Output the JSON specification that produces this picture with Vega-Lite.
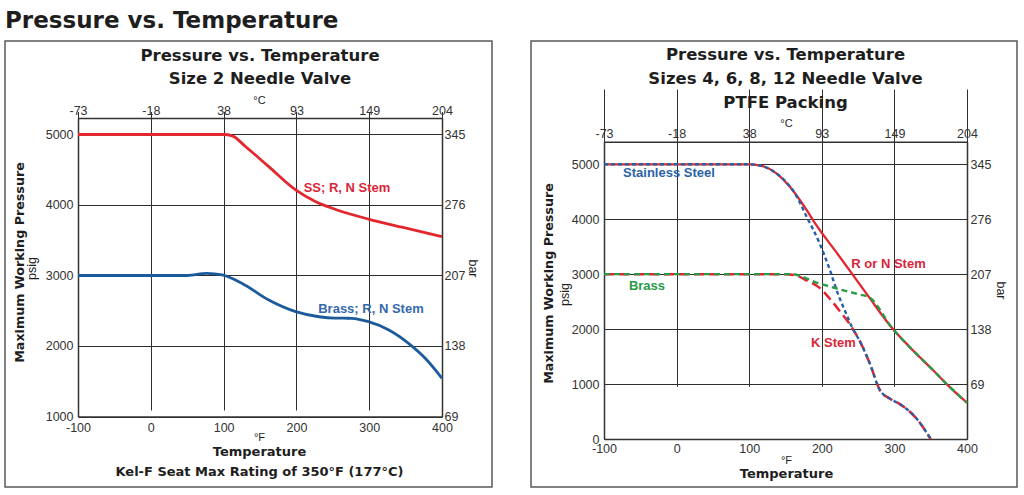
{
  "$schema": "https://vega.github.io/schema/vega-lite/v6.json",
  "padding": {"left": 4, "top": 10, "right": 4, "bottom": 4},
  "background": "white",
  "title": {"text": "Pressure vs. Temperature", "anchor": "start", "font": "DejaVu Sans", "fontSize": 23, "fontWeight": "bold", "color": "#1e1e1e", "offset": 7},
  "spacing": 37,
  "resolve": {"scale": {"color": "independent"}},
  "datasets": {
    "lss": [
      {"F": -100, "P": 5000}, {"F": 100, "P": 5000}, {"F": 112, "P": 4980}, {"F": 130, "P": 4830},
      {"F": 162, "P": 4545}, {"F": 199, "P": 4215}, {"F": 226, "P": 4050}, {"F": 253, "P": 3940},
      {"F": 299, "P": 3800}, {"F": 345, "P": 3685}, {"F": 400, "P": 3550}
    ],
    "lbr": [
      {"F": -100, "P": 3000}, {"F": 50, "P": 3000}, {"F": 77, "P": 3030}, {"F": 98, "P": 3008},
      {"F": 125, "P": 2890}, {"F": 162, "P": 2652}, {"F": 199, "P": 2487}, {"F": 231, "P": 2415},
      {"F": 253, "P": 2395}, {"F": 276, "P": 2393}, {"F": 299, "P": 2345}, {"F": 327, "P": 2227},
      {"F": 354, "P": 2038}, {"F": 377, "P": 1826}, {"F": 400, "P": 1542}
    ],
    "llab": [
      {"F": 269.5, "P": 4248, "label": "SS; R, N Stem", "series": "ss"},
      {"F": 302.4, "P": 2525, "label": "Brass; R, N Stem", "series": "brass"}
    ],
    "rrn": [
      {"F": -100, "P": 5000}, {"F": 100, "P": 5000}, {"F": 120, "P": 4960}, {"F": 137, "P": 4840},
      {"F": 156, "P": 4590}, {"F": 179, "P": 4170}, {"F": 192, "P": 3900}, {"F": 220, "P": 3400},
      {"F": 247, "P": 2910}, {"F": 264, "P": 2600}, {"F": 298, "P": 2000}, {"F": 325, "P": 1620},
      {"F": 353, "P": 1256}, {"F": 372, "P": 1000}, {"F": 400, "P": 660}
    ],
    "rk": [
      {"F": -100, "P": 3000}, {"F": 150, "P": 3000}, {"F": 165, "P": 2975}, {"F": 180, "P": 2880},
      {"F": 197, "P": 2750}, {"F": 210, "P": 2570}, {"F": 227, "P": 2290}, {"F": 238, "P": 2100},
      {"F": 252, "P": 1790}, {"F": 266, "P": 1380}, {"F": 280, "P": 890}, {"F": 293, "P": 740},
      {"F": 307, "P": 640}, {"F": 330, "P": 380}, {"F": 350, "P": 0}
    ],
    "rssk": [
      {"F": -100, "P": 5000}, {"F": 100, "P": 5000}, {"F": 120, "P": 4960}, {"F": 137, "P": 4840},
      {"F": 152, "P": 4660}, {"F": 163, "P": 4470}, {"F": 179, "P": 4050}, {"F": 197, "P": 3560},
      {"F": 211, "P": 3080}, {"F": 222, "P": 2650}, {"F": 232, "P": 2330}, {"F": 243, "P": 2000},
      {"F": 252, "P": 1790}, {"F": 266, "P": 1380}, {"F": 280, "P": 890}, {"F": 293, "P": 740},
      {"F": 307, "P": 640}, {"F": 330, "P": 380}, {"F": 350, "P": 0}
    ],
    "rbr": [
      {"F": -100, "P": 3000}, {"F": 160, "P": 3000}, {"F": 172, "P": 2960}, {"F": 190, "P": 2860},
      {"F": 211, "P": 2775}, {"F": 234, "P": 2690}, {"F": 252, "P": 2630}, {"F": 265, "P": 2582},
      {"F": 298, "P": 2000}, {"F": 325, "P": 1620}, {"F": 353, "P": 1256}, {"F": 372, "P": 1000},
      {"F": 400, "P": 660}
    ],
    "rlab": [
      {"F": -10.5, "P": 4842, "label": "Stainless Steel", "series": "ss"},
      {"F": -40.8, "P": 2776, "label": "Brass", "series": "brass"},
      {"F": 291.9, "P": 3176, "label": "R or N Stem", "series": "rn"},
      {"F": 216, "P": 1747, "label": "K Stem", "series": "k"}
    ]
  },
  "hconcat": [
    {
      "width": 487,
      "height": 446,
      "title": {"text": ["Pressure vs. Temperature", "Size 2 Needle Valve"], "offset": -46.7, "dx": 11.5, "lineHeight": 23},
      "resolve": {"axis": {"x": "independent", "y": "independent"}},
      "layer": [
        {
          "data": {"name": "lss"},
          "mark": {"type": "line", "color": "#e2282e", "strokeWidth": 2.8, "interpolate": "monotone"},
          "encoding": {
            "x": {"field": "F", "type": "quantitative",
              "scale": {"domain": [-100, 400], "range": [73, 437], "nice": false, "zero": false},
              "axis": {"orient": "bottom", "offset": -70.5, "values": [-100, 0, 100, 200, 300, 400], "labelExpr": "'' + datum.value", "labelPadding": 5, "grid": true,
                "title": "°F", "titleFont": "Liberation Sans", "titleFontWeight": "normal", "titleFontSize": 11, "titleX": 254, "titleY": 23.5, "titleAlign": "center", "titleBaseline": "alphabetic", "titleAngle": 0}},
            "y": {"field": "P", "type": "quantitative",
              "scale": {"domain": [1000, 5234], "range": [375.5, 77], "nice": false, "zero": false},
              "axis": {"orient": "left", "offset": -73, "values": [1000, 2000, 3000, 4000, 5000], "labelExpr": "'' + datum.value", "labelPadding": 5, "grid": true,
                "title": "Maximum Working Pressure", "titleFontSize": 12.7, "titleX": -54.5, "titleY": 221, "titleAngle": -90, "titleAlign": "center", "titleBaseline": "alphabetic"}}
          }
        },
        {
          "data": {"name": "lbr"},
          "mark": {"type": "line", "color": "#1c5a9b", "strokeWidth": 2.8, "interpolate": "monotone"},
          "encoding": {
            "x": {"field": "F", "type": "quantitative",
              "scale": {"domain": [-100, 400], "range": [73, 437], "nice": false, "zero": false},
              "axis": {"orient": "bottom", "offset": -70.5, "labels": false, "domain": false, "grid": false,
                "title": ["Temperature", "Kel-F Seat Max Rating of 350°F (177°C)"], "titleFontSize": 13, "titleLineHeight": 20, "titleX": 254, "titleY": 38.5, "titleAlign": "center", "titleBaseline": "alphabetic", "titleAngle": 0}},
            "y": {"field": "P", "type": "quantitative",
              "scale": {"domain": [1000, 5234], "range": [375.5, 77], "nice": false, "zero": false},
              "axis": {"orient": "left", "offset": -73, "labels": false, "domain": false, "grid": false,
                "title": "psig", "titleFont": "Liberation Sans", "titleFontWeight": "normal", "titleFontSize": 12.5, "titleX": -42.5, "titleY": 227, "titleAngle": -90, "titleAlign": "center", "titleBaseline": "alphabetic"}}
          }
        },
        {
          "data": {"name": "llab"},
          "mark": {"type": "text", "font": "Liberation Sans", "fontSize": 13, "fontWeight": "bold", "align": "center", "baseline": "middle"},
          "encoding": {
            "x": {"field": "F", "type": "quantitative",
              "scale": {"domain": [-100, 400], "range": [73, 437], "nice": false, "zero": false},
              "axis": {"orient": "top", "offset": -77, "values": [-100, 0, 100, 200, 300, 400], "labelExpr": "'' + round((datum.value - 32) * 5 / 9)", "labelPadding": 1, "grid": false,
                "title": "°C", "titleFont": "Liberation Sans", "titleFontWeight": "normal", "titleFontSize": 11, "titleX": 254, "titleY": -14.5, "titleAlign": "center", "titleBaseline": "alphabetic", "titleAngle": 0}},
            "y": {"field": "P", "type": "quantitative",
              "scale": {"domain": [1000, 5234], "range": [375.5, 77], "nice": false, "zero": false},
              "axis": {"orient": "right", "offset": -50, "values": [1000, 2000, 3000, 4000, 5000], "labelExpr": "'' + round(datum.value * 0.0689476)", "labelPadding": 2, "grid": false,
                "title": "bar", "titleFont": "Liberation Sans", "titleFontWeight": "normal", "titleFontSize": 12.5, "titleX": 26, "titleY": 227, "titleAngle": 90, "titleAlign": "center", "titleBaseline": "alphabetic"}},
            "text": {"field": "label"},
            "color": {"field": "series", "type": "nominal", "scale": {"domain": ["ss", "brass"], "range": ["#d9263a", "#3569ad"]}, "legend": null}
          }
        }
      ]
    },
    {
      "width": 486,
      "height": 446,
      "title": {"text": ["Pressure vs. Temperature", "Sizes 4, 6, 8, 12 Needle Valve", "PTFE Packing"], "offset": -70.5, "dx": 11.5, "lineHeight": 24},
      "resolve": {"axis": {"x": "independent", "y": "independent"}},
      "layer": [
        {
          "data": {"name": "rrn"},
          "mark": {"type": "line", "color": "#e0262f", "strokeWidth": 2.3, "interpolate": "monotone"},
          "encoding": {
            "x": {"field": "F", "type": "quantitative",
              "scale": {"domain": [-100, 400], "range": [73, 436], "nice": false, "zero": false},
              "axis": {"orient": "bottom", "offset": -48, "values": [-100, 0, 100, 200, 300, 400], "labelExpr": "'' + datum.value", "labelPadding": 3.5, "grid": true,
                "title": "°F", "titleFont": "Liberation Sans", "titleFontWeight": "normal", "titleFontSize": 11, "titleX": 255, "titleY": 24, "titleAlign": "center", "titleBaseline": "alphabetic", "titleAngle": 0}},
            "y": {"field": "P", "type": "quantitative",
              "scale": {"domain": [0, 5411], "range": [398, 100.7], "nice": false, "zero": false},
              "axis": {"orient": "left", "offset": -73, "values": [0, 1000, 2000, 3000, 4000, 5000], "labelExpr": "'' + datum.value", "labelPadding": 5, "grid": true,
                "title": "Maximum Working Pressure", "titleFontSize": 12.7, "titleX": -52, "titleY": 242, "titleAngle": -90, "titleAlign": "center", "titleBaseline": "alphabetic"}}
          }
        },
        {
          "data": {"name": "rk"},
          "mark": {"type": "line", "color": "#e0262f", "strokeWidth": 2.5, "strokeDash": [10, 5], "interpolate": "monotone"},
          "encoding": {
            "x": {"field": "F", "type": "quantitative",
              "scale": {"domain": [-100, 400], "range": [73, 436], "nice": false, "zero": false},
              "axis": {"orient": "bottom", "offset": -48, "labels": false, "domain": false, "grid": false,
                "title": "Temperature", "titleFontSize": 13, "titleX": 255, "titleY": 38, "titleAlign": "center", "titleBaseline": "alphabetic", "titleAngle": 0}},
            "y": {"field": "P", "type": "quantitative",
              "scale": {"domain": [0, 5411], "range": [398, 100.7], "nice": false, "zero": false},
              "axis": {"orient": "left", "offset": -73, "labels": false, "domain": false, "grid": false,
                "title": "psig", "titleFont": "Liberation Sans", "titleFontWeight": "normal", "titleFontSize": 12.5, "titleX": -36, "titleY": 253, "titleAngle": -90, "titleAlign": "center", "titleBaseline": "alphabetic"}}
          }
        },
        {
          "data": {"name": "rssk"},
          "mark": {"type": "line", "color": "#2661a8", "strokeWidth": 2.4, "strokeDash": [4, 3], "interpolate": "monotone"},
          "encoding": {
            "x": {"field": "F", "type": "quantitative", "scale": {"domain": [-100, 400], "range": [73, 436], "nice": false, "zero": false}, "axis": null},
            "y": {"field": "P", "type": "quantitative", "scale": {"domain": [0, 5411], "range": [398, 100.7], "nice": false, "zero": false}, "axis": null}
          }
        },
        {
          "data": {"name": "rbr"},
          "mark": {"type": "line", "color": "#2a9a48", "strokeWidth": 2.4, "strokeDash": [6, 4], "interpolate": "monotone"},
          "encoding": {
            "x": {"field": "F", "type": "quantitative", "scale": {"domain": [-100, 400], "range": [73, 436], "nice": false, "zero": false}, "axis": null},
            "y": {"field": "P", "type": "quantitative", "scale": {"domain": [0, 5411], "range": [398, 100.7], "nice": false, "zero": false}, "axis": null}
          }
        },
        {
          "data": {"name": "rlab"},
          "mark": {"type": "text", "font": "Liberation Sans", "fontSize": 13, "fontWeight": "bold", "align": "center", "baseline": "middle"},
          "encoding": {
            "x": {"field": "F", "type": "quantitative",
              "scale": {"domain": [-100, 400], "range": [73, 436], "nice": false, "zero": false},
              "axis": {"orient": "top", "offset": -100.7, "values": [-100, 0, 100, 200, 300, 400], "labelExpr": "'' + round((datum.value - 32) * 5 / 9)", "labelPadding": 1, "grid": false,
                "title": "°C", "titleFont": "Liberation Sans", "titleFontWeight": "normal", "titleFontSize": 11, "titleX": 255, "titleY": -15.2, "titleAlign": "center", "titleBaseline": "alphabetic", "titleAngle": 0}},
            "y": {"field": "P", "type": "quantitative",
              "scale": {"domain": [0, 5411], "range": [398, 100.7], "nice": false, "zero": false},
              "axis": {"orient": "right", "offset": -50, "values": [1000, 2000, 3000, 4000, 5000], "labelExpr": "'' + round(datum.value * 0.0689476)", "labelPadding": 3, "grid": false,
                "title": "bar", "titleFont": "Liberation Sans", "titleFontWeight": "normal", "titleFontSize": 12.5, "titleX": 29, "titleY": 249, "titleAngle": 90, "titleAlign": "center", "titleBaseline": "alphabetic"}},
            "text": {"field": "label"},
            "color": {"field": "series", "type": "nominal", "scale": {"domain": ["ss", "brass", "rn", "k"], "range": ["#2b63a8", "#2a9a48", "#d9263a", "#d9263a"]}, "legend": null}
          }
        }
      ]
    }
  ],
  "config": {
    "view": {"stroke": "#5a5a5a", "strokeWidth": 1.5},
    "title": {"font": "DejaVu Sans", "fontSize": 16.5, "fontWeight": "bold", "color": "#1e1e1e", "anchor": "middle", "frame": "group"},
    "axis": {
      "labelFont": "Liberation Sans", "labelFontSize": 12.5, "labelColor": "#333333",
      "ticks": false, "labelFlush": false, "labelOverlap": false,
      "gridColor": "#2e2e2e", "gridOpacity": 1, "gridWidth": 1,
      "domainColor": "#333333", "domainWidth": 1.5,
      "titleFont": "DejaVu Sans", "titleFontWeight": "bold", "titleColor": "#1e1e1e",
      "minExtent": 0, "maxExtent": 200
    }
  }
}
